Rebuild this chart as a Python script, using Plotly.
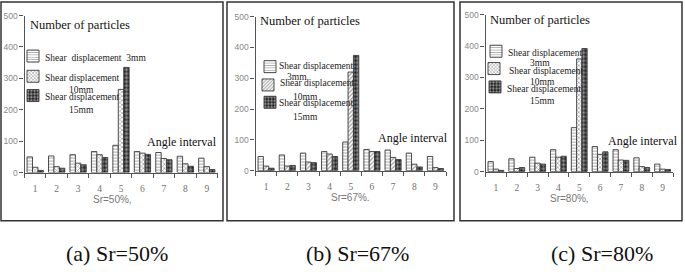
import plotly.graph_objects as go

# ---------------- data ----------------
categories = ["1", "2", "3", "4", "5", "6", "7", "8", "9"]
y_ticks = [0, 100, 200, 300, 400, 500]

sr50_3mm = [50, 53, 57, 67, 87, 67, 64, 52, 46]
sr50_10mm = [17, 19, 30, 57, 265, 62, 45, 28, 19]
sr50_15mm = [7, 14, 25, 48, 335, 58, 41, 20, 10]

sr67_3mm = [46, 51, 57, 62, 93, 69, 67, 57, 46]
sr67_10mm = [15, 15, 28, 54, 320, 62, 43, 21, 10]
sr67_15mm = [8, 17, 26, 46, 374, 62, 36, 12, 7]

sr80_3mm = [32, 41, 46, 70, 140, 80, 70, 44, 24]
sr80_10mm = [8, 10, 27, 46, 359, 55, 37, 16, 8]
sr80_15mm = [4, 13, 24, 49, 392, 63, 36, 13, 7]

series_names = ["Shear displacement 3mm", "Shear displacement 10mm", "Shear displacement 15mm"]
panel_subtitles = ["Sr=50%,", "Sr=67%.", "Sr=80%,"]
captions = ["(a) Sr=50%", "(b) Sr=67%", "(c) Sr=80%"]
y_title = "Number of particles"
x_title = "Angle interval"

panels = [
    [sr50_3mm, sr50_10mm, sr50_15mm],
    [sr67_3mm, sr67_10mm, sr67_15mm],
    [sr80_3mm, sr80_10mm, sr80_15mm],
]

# ---------------- layout helpers ----------------
W, H = 685, 272
SERIF = "Liberation Serif, Times New Roman, serif"
SANS = "Liberation Sans, Arial, sans-serif"


def px(x):
    return x / W


def py(y):
    return 1 - y / H


NB = "\u00a0"

# pixel geometry of each panel
geo = [
    dict(xd=(24.5, 217.5), y0=174, y500=11, box=(1, 223), ytitle=(28, 21), xtitle=(145, 142),
         sub=(112, 202), cap=(117, 258),
         sym=[(33, 55), (33, 76), (33, 96)],
         text=[(43, 55, "Shear" + NB + " displacement" + NB + " 3mm"),
               (43, 76, "Shear displacement"), (67, 88, "10mm"),
               (43, 96, "Shear displacement"), (67, 109, "15mm")]),
    dict(xd=(255.5, 446), y0=172, y500=12, box=(227, 454), ytitle=(258, 17), xtitle=(376, 138),
         sub=(350, 200), cap=(357, 258),
         sym=[(270, 66), (268, 85), (270, 103)],
         text=[(277, 63, "Shear displacement"), (285, 75, "3mm"),
               (278, 81, "Shear displacement"), (291, 95, "10mm"),
               (277, 102, "Shear displacement"), (291, 116, "15mm")]),
    dict(xd=(485.5, 673), y0=173, y500=10, box=(460, 682), ytitle=(488, 16), xtitle=(606, 141),
         sub=(569, 201), cap=(602, 258),
         sym=[(496, 50), (494, 68), (495, 87)],
         text=[(506, 50, "Shear displacement"), (528, 60, "3mm"),
               (507, 68, "Shear displacement"), (528, 80, "10mm"),
               (505, 87, "Shear displacement"), (528, 100, "15mm")]),
]

styles = [
    dict(shape="-", fg="#555555", bg="#ffffff", size=3, solidity=0.35),
    dict(shape="x", fg="#333333", bg="#ffffff", size=3, solidity=0.4),
    dict(shape=".", fg="#ffffff", bg="#1a1a1a", size=4, solidity=0.55),
]

fig = go.Figure()
layout = dict(
    width=W, height=H,
    margin=dict(l=0, r=0, t=0, b=0),
    paper_bgcolor="white", plot_bgcolor="white",
    barmode="group", bargap=0.24, bargroupgap=0.0,
    showlegend=True,
    shapes=[], annotations=[],
)

leg_i = 0
for p, (vals, g) in enumerate(zip(panels, geo)):
    sfx = "" if p == 0 else str(p + 1)
    xa, ya = "x" + sfx, "y" + sfx
    for k, (v, st) in enumerate(zip(vals, styles)):
        leg_i += 1
        lname = "legend" if leg_i == 1 else "legend" + str(leg_i)
        st_shape = st["shape"]
        if p == 1 and k == 1:
            st_shape = "/"
        fig.add_trace(go.Bar(
            x=categories, y=v, xaxis=xa, yaxis=ya, name="",
            legend=lname, hoverinfo="skip",
            marker=dict(
                color=st["bg"],
                line=dict(color="#3a3a3a", width=0.9),
                pattern=dict(shape=st_shape, fgcolor=st["fg"], bgcolor=st["bg"],
                             size=st["size"], solidity=st["solidity"]),
            ),
        ))
        sx, sy = g["sym"][k]
        layout[lname] = dict(
            x=px(sx - 20), y=py(sy - 2), xanchor="left", yanchor="middle",
            bgcolor="rgba(0,0,0,0)", borderwidth=0, font=dict(size=9),
            itemwidth=30, tracegroupgap=0,
        )

    layout["xaxis" + sfx] = dict(
        type="category", domain=[px(g["xd"][0]), px(g["xd"][1])], anchor=ya,
        range=[-0.5, 8.5], showline=True, linecolor="#555555", linewidth=1.3,
        ticks="outside", tickson="boundaries", ticklen=4, tickcolor="#555555",
        ticklabelstandoff=7,
        tickfont=dict(family=SERIF, size=9.5, color="#6f6f6f"),
        showgrid=False, zeroline=False, fixedrange=True,
    )
    layout["yaxis" + sfx] = dict(
        domain=[py(g["y0"]), py(g["y500"])], anchor=xa, range=[0, 500],
        showline=True, linecolor="#555555", linewidth=1.3,
        ticks="outside", ticklen=4, tickcolor="#555555", tickvals=y_ticks,
        tickfont=dict(family=SANS, size=8.5, color="#888888"),
        showgrid=False, zeroline=False, fixedrange=True,
    )

    # panel border
    layout["shapes"].append(dict(
        type="rect", xref="paper", yref="paper",
        x0=px(g["box"][0]), x1=px(g["box"][1]), y0=py(224), y1=py(-3),
        line=dict(color="#333333", width=1.5), fillcolor="rgba(0,0,0,0)",
    ))

    ann = layout["annotations"]
    ann.append(dict(text=y_title, xref="paper", yref="paper",
                    x=px(g["ytitle"][0]), y=py(g["ytitle"][1]), xanchor="left", yanchor="middle",
                    showarrow=False, font=dict(family=SERIF, size=12.5, color="#111111")))
    ann.append(dict(text=x_title, xref="paper", yref="paper",
                    x=px(g["xtitle"][0]), y=py(g["xtitle"][1]), xanchor="left", yanchor="middle",
                    showarrow=False, font=dict(family=SERIF, size=12, color="#111111")))
    ann.append(dict(text=panel_subtitles[p], xref="paper", yref="paper",
                    x=px(g["sub"][0]), y=py(g["sub"][1]), xanchor="center", yanchor="middle",
                    showarrow=False, font=dict(family=SANS, size=10, color="#777777")))
    ann.append(dict(text=captions[p], xref="paper", yref="paper",
                    x=px(g["cap"][0]), y=py(g["cap"][1]), xanchor="center", yanchor="middle",
                    showarrow=False, font=dict(family=SERIF, size=22, color="#111111")))
    for (tx, ty, tt) in g["text"]:
        ann.append(dict(text=tt, xref="paper", yref="paper",
                        x=px(tx), y=py(ty), xanchor="left", yanchor="middle",
                        showarrow=False, font=dict(family=SERIF, size=9.5, color="#222222")))

fig.update_layout(**layout)
fig.write_html(
    "out.html",
    config={"displayModeBar": False},
    post_script="document.body.style.margin='0';document.body.style.overflow='hidden';",
)
